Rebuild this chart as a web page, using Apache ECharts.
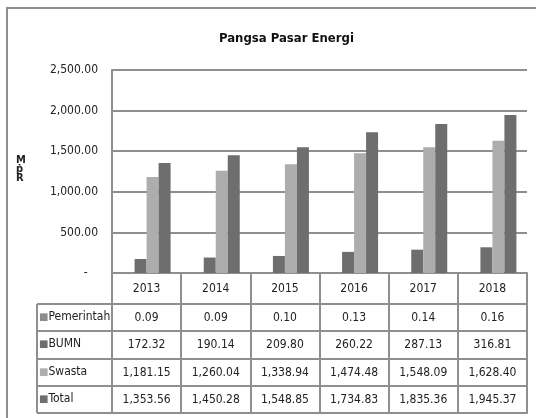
<!DOCTYPE html>
<html>
<head>
<meta charset="utf-8">
<script src="https://cdn.jsdelivr.net/npm/echarts@6/dist/echarts.min.js"></script>
<style>
  html, body { margin: 0; padding: 0; background: #fff; }
  #chart { width: 536px; height: 418px; }
</style>
</head>
<body>
<div id="chart"></div>
<script>
// data
var years = ['2013', '2014', '2015', '2016', '2017', '2018'];
var pemerintah = [0.09, 0.09, 0.10, 0.13, 0.14, 0.16];
var bumn = [172.32, 190.14, 209.80, 260.22, 287.13, 316.81];
var swasta = [1181.15, 1260.04, 1338.94, 1474.48, 1548.09, 1628.40];
var total = [1353.56, 1450.28, 1548.85, 1734.83, 1835.36, 1945.37];
var rowNames = ['Pemerintah', 'BUMN', 'Swasta', 'Total'];
var rowValues = [pemerintah, bumn, swasta, total];
var yMin = 0, yMax = 2500, yStep = 500;

var font = '"Liberation Sans Narrow", "DejaVu Sans Condensed", sans-serif';
var colors = ['#8c8c8c', '#6e6e6e', '#adadad', '#6e6e6e'];
var lineCol = '#8f8f8f';
var rowOffsets = [31, 58, 86, 113];   // tabel: garis atas tiap baris
var tableBottom = 140;

function fmt(v) {
  return v.toLocaleString('en-US', { minimumFractionDigits: 2, maximumFractionDigits: 2 });
}

var xAxes = [{
  type: 'category',
  data: years,
  axisLine: { lineStyle: { color: lineCol, width: 2 } },
  axisTick: { show: true, interval: 0, length: tableBottom, lineStyle: { color: lineCol, width: 2 } },
  axisLabel: { color: '#222', fontFamily: font, fontSize: 12, margin: 10 }
}];

rowNames.forEach(function (name, i) {
  xAxes.push({
    type: 'category',
    data: years,
    position: 'bottom',
    offset: rowOffsets[i],
    axisLine: { lineStyle: { color: lineCol, width: 2 } },
    axisTick: { show: false },
    axisLabel: {
      color: '#222', fontFamily: font, fontSize: 12, margin: 8, interval: 0,
      formatter: function (v, idx) { return fmt(rowValues[i][idx]); }
    },
    name: '{m|■}{t|' + name + '}',
    nameLocation: 'start',
    nameGap: 73,
    nameTextStyle: {
      align: 'left', verticalAlign: 'top', padding: [7, 0, 0, 0],
      rich: {
        m: { color: colors[i], fontSize: 10, fontFamily: 'DejaVu Sans' },
        t: { color: '#222', fontSize: 12, fontFamily: font }
      }
    }
  });
});
// garis bawah tabel
xAxes.push({
  type: 'category', data: years, position: 'bottom', offset: tableBottom,
  axisLine: { lineStyle: { color: lineCol, width: 2 } },
  axisTick: { show: false }, axisLabel: { show: false }
});

// bingkai kolom nama baris
var frame = [];
rowOffsets.concat([tableBottom]).forEach(function (o) {
  frame.push({ type: 'line', shape: { x1: 37, y1: 273 + o, x2: 112, y2: 273 + o },
    style: { stroke: lineCol, lineWidth: 2 } });
});
frame.push({ type: 'line', shape: { x1: 37, y1: 273 + rowOffsets[0], x2: 37, y2: 273 + tableBottom },
  style: { stroke: lineCol, lineWidth: 2 } });
frame.push({ type: 'rect', shape: { x: 7, y: 8, width: 560, height: 430 },
  style: { fill: 'none', stroke: lineCol, lineWidth: 2 }, z: -1 });
frame.push({ type: 'text', left: 16, top: 155,
  style: { text: 'M\nṗ\nR', font: 'bold 11px ' + font, fill: '#222', lineHeight: 9, align: 'center' } });

function barSeries(name, data, color) {
  return { name: name, type: 'bar', data: data, barWidth: 12, barGap: 0,
    itemStyle: { color: color }, silent: true };
}

var chart = echarts.init(document.getElementById('chart'));
chart.setOption({
  animation: false,
  title: {
    text: 'Pangsa Pasar Energi', left: 214, top: 27,
    textStyle: { fontFamily: font, fontSize: 13, fontWeight: 'bold', color: '#111' }
  },
  grid: { left: 112, right: 9, top: 70, bottom: 145, outerBoundsMode: 'none' },
  xAxis: xAxes,
  yAxis: {
    type: 'value', min: yMin, max: yMax, interval: yStep,
    axisLine: { show: true, lineStyle: { color: lineCol, width: 2 } },
    axisTick: { show: false },
    splitLine: { lineStyle: { color: lineCol, width: 2 } },
    axisLabel: {
      color: '#222', fontFamily: font, fontSize: 12, margin: 14,
      formatter: function (v) { return v === 0 ? '-   ' : fmt(v); }
    }
  },
  graphic: frame,
  series: [
    barSeries('Pemerintah', pemerintah, colors[0]),
    barSeries('BUMN', bumn, colors[1]),
    barSeries('Swasta', swasta, colors[2]),
    barSeries('Total', total, colors[3])
  ]
});
</script>
</body>
</html>
